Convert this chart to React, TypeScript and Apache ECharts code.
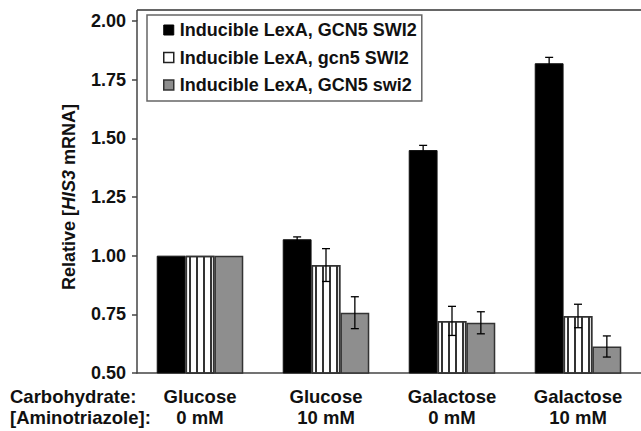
import React, { useEffect, useRef } from "react";
import * as echarts from "echarts";

const categories = ["Glucose\n0 mM", "Glucose\n10 mM", "Galactose\n0 mM", "Galactose\n10 mM"];
const seriesNames = [
  "Inducible LexA, GCN5 SWI2",
  "Inducible LexA, gcn5 SWI2",
  "Inducible LexA, GCN5 swi2",
];
const wildType = [1.0, 1.07, 1.45, 1.82];
const wildTypeErr = [0, 0.01, 0.02, 0.025];
const gcn5Mutant = [1.0, 0.96, 0.722, 0.743];
const gcn5MutantErr = [0, 0.07, 0.062, 0.05];
const swi2Mutant = [1.0, 0.757, 0.714, 0.613];
const swi2MutantErr = [0, 0.068, 0.047, 0.045];
const yMin = 0.5;
const yMax = 2.0;
const yInterval = 0.25;
const rowHeaders = ["Carbohydrate:", "[Aminotriazole]:"];

const GAP = 0.313;
const FONT = "'Liberation Sans', Arial, Helvetica, sans-serif";

export default function App() {
  const ref = useRef<HTMLDivElement>(null);
  useEffect(() => {
    if (!ref.current) return;
    const chart = echarts.init(ref.current, undefined, { renderer: "svg" });
    const values = [wildType, gcn5Mutant, swi2Mutant];
    const errs = [wildTypeErr, gcn5MutantErr, swi2MutantErr];
    const errData: number[][] = [];
    values.forEach((vals, k) => {
      vals.forEach((v, i) => {
        if (errs[k][i] > 0) errData.push([i, k, v - errs[k][i], v + errs[k][i]]);
      });
    });
    const barStyles = [
      { color: "#000", borderColor: "#111", borderWidth: 1 },
      {
        color: "#fff",
        borderColor: "#333",
        borderWidth: 1.5,
        decal: {
          symbol: "rect",
          symbolSize: 1,
          color: "#333",
          dashArrayX: [2, 5],
          dashArrayY: [1, 0],
          rotation: 0,
        },
      },
      { color: "#8e8e8e", borderColor: "#333", borderWidth: 1.5 },
    ];
    const legendIcons = [
      { color: "#000", borderColor: "#000", borderWidth: 1 },
      { color: "#fff", borderColor: "#222", borderWidth: 1.5, decal: "none" },
      { color: "#8e8e8e", borderColor: "#333", borderWidth: 1.5 },
    ];
    chart.setOption({
      animation: false,
      textStyle: { fontFamily: FONT },
      grid: { left: 137, right: -3, top: 21, bottom: 58, containLabel: false },
      legend: {
        orient: "vertical",
        left: 147,
        top: 15,
        backgroundColor: "#fff",
        borderColor: "#666",
        borderWidth: 1.5,
        borderRadius: 0,
        padding: [6, 5, 7, 16],
        itemWidth: 10,
        itemHeight: 10,
        itemGap: 9.5,
        icon: "rect",
        textStyle: {
          fontFamily: FONT,
          fontSize: 18,
          fontWeight: "bold",
          color: "#111",
          lineHeight: 18,
          padding: [0, 0, 0, 1],
        },
        data: seriesNames.map((n, k) => ({ name: n, itemStyle: legendIcons[k] })),
      },
      xAxis: {
        type: "category",
        data: categories,
        axisTick: { show: false },
        axisLine: { lineStyle: { color: "#444", width: 1.5 } },
        axisLabel: {
          fontFamily: FONT,
          fontSize: 18.5,
          fontWeight: "bold",
          color: "#111",
          lineHeight: 21,
          margin: 13,
        },
      },
      yAxis: {
        type: "value",
        min: yMin,
        max: yMax,
        interval: yInterval,
        splitLine: { show: false },
        axisLine: { show: true, lineStyle: { color: "#444", width: 1.5 } },
        axisTick: { show: true, length: 5, lineStyle: { color: "#444", width: 1.5 } },
        axisLabel: {
          fontFamily: FONT,
          fontSize: 18,
          fontWeight: "bold",
          color: "#111",
          margin: 11,
          formatter: (v: number) => v.toFixed(2),
        },
        name: "Relative [{i|HIS3} mRNA]",
        nameLocation: "middle",
        nameRotate: 90,
        nameGap: 59,
        nameTextStyle: {
          fontFamily: FONT,
          fontSize: 18,
          fontWeight: "bold",
          color: "#111",
          rich: {
            i: { fontFamily: FONT, fontSize: 18, fontWeight: "bold", fontStyle: "italic", color: "#111" },
          },
        },
      },
      graphic: [
        {
          type: "line",
          shape: { x1: 137, y1: 10, x2: 641, y2: 10 },
          style: { stroke: "#666", lineWidth: 2 },
        },
        {
          type: "line",
          shape: { x1: 137, y1: 10, x2: 137, y2: 21 },
          style: { stroke: "#444", lineWidth: 1.5 },
        },
        ...rowHeaders.map((t, r) => ({
          type: "text",
          left: 10,
          top: 386 + r * 21,
          style: {
            text: t,
            fontFamily: FONT,
            fontSize: 18.5,
            fontWeight: "bold",
            lineHeight: 21,
            fill: "#111",
          },
        })),
      ],
      series: [
        ...seriesNames.map((n, k) => ({
          name: n,
          type: "bar",
          data: values[k],
          barGap: "0%",
          barCategoryGap: (GAP * 100).toFixed(1) + "%",
          itemStyle: barStyles[k],
          z: 2,
        })),
        {
          name: "error",
          type: "custom",
          z: 5,
          data: errData,
          encode: { x: 0, y: [2, 3] },
          renderItem: (params: any, api: any) => {
            const i = api.value(0);
            const k = api.value(1);
            const band = api.size([1, 0])[0];
            const bw = (band * (1 - GAP)) / 3;
            const lo = api.coord([i, api.value(2)]);
            const hi = api.coord([i, api.value(3)]);
            const x = lo[0] + (k - 1) * bw;
            const cap = 4;
            const st = { stroke: "#000", lineWidth: 1.3 };
            return {
              type: "group",
              children: [
                { type: "line", shape: { x1: x, y1: lo[1], x2: x, y2: hi[1] }, style: st },
                { type: "line", shape: { x1: x - cap, y1: hi[1], x2: x + cap, y2: hi[1] }, style: st },
                { type: "line", shape: { x1: x - cap, y1: lo[1], x2: x + cap, y2: lo[1] }, style: st },
              ],
            };
          },
        },
      ],
    });
    return () => chart.dispose();
  }, []);
  return (
    <div
      ref={ref}
      style={{ position: "fixed", left: 0, top: 0, width: 641, height: 431, background: "#fff" }}
    />
  );
}
